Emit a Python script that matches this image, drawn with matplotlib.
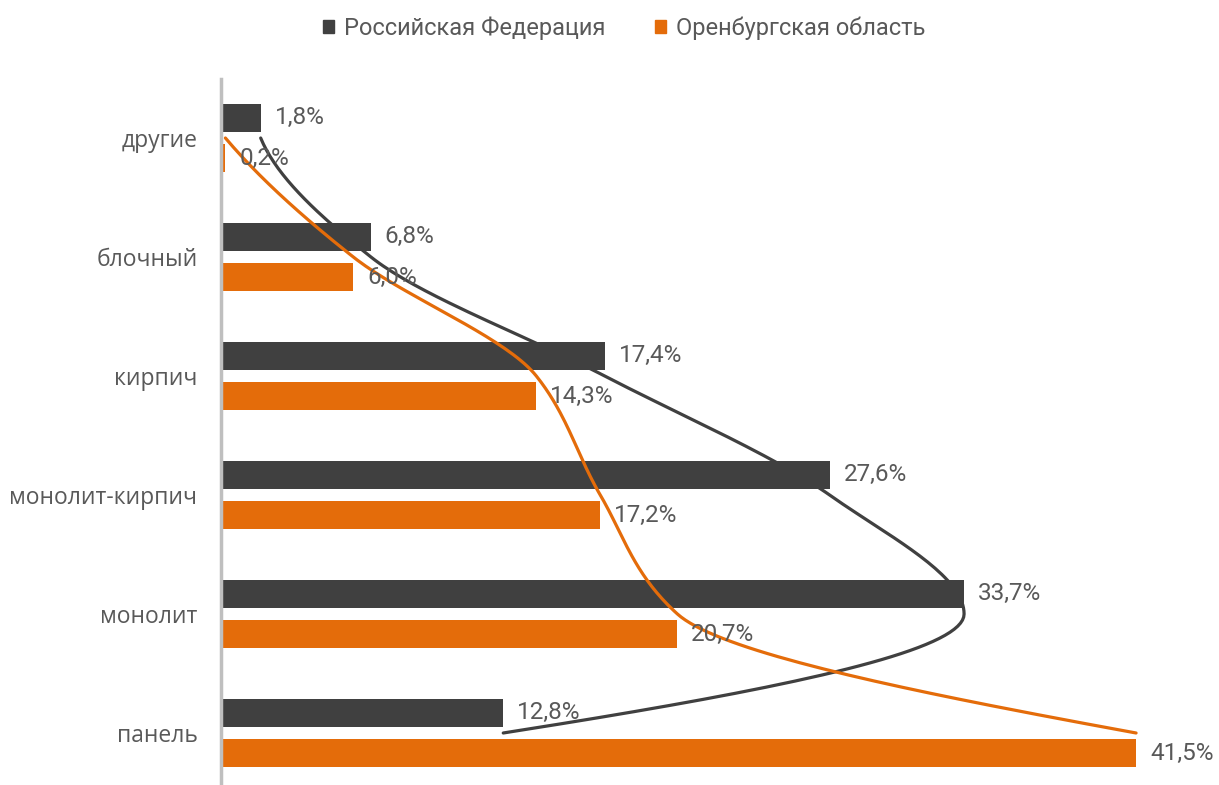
import matplotlib
matplotlib.use("Agg")
import matplotlib.pyplot as plt
from matplotlib.patches import Patch
import numpy as np

# data
categories = ["другие", "блочный", "кирпич", "монолит-кирпич", "монолит", "панель"]
rf_values = [1.8, 6.8, 17.4, 27.6, 33.7, 12.8]
orb_values = [0.2, 6.0, 14.3, 17.2, 20.7, 41.5]
series_names = ["Российская Федерация", "Оренбургская область"]

dark = "#404040"
orange = "#E46C0A"
txt = "#595959"

plt.rcParams['font.family'] = ['Roboto', 'DejaVu Sans']


def smooth(xs, n=40):
    # monotone (PCHIP) curve x(y) through the bar ends, one step per category
    x = np.asarray(xs, dtype=float)
    d = np.diff(x)
    m = np.zeros_like(x)
    for i in range(1, len(x) - 1):
        if d[i - 1] * d[i] > 0:
            m[i] = 2.0 / (1.0 / d[i - 1] + 1.0 / d[i])
    for k, (a, b) in ((0, (d[0], d[1])), (-1, (d[-1], d[-2]))):
        e = (3 * a - b) / 2.0
        if np.sign(e) != np.sign(a):
            e = 0.0
        elif np.sign(a) != np.sign(b) and abs(e) > 3 * abs(a):
            e = 3 * a
        m[k] = e
    t = np.linspace(0, 1, n)
    h00 = 2 * t ** 3 - 3 * t ** 2 + 1
    h10 = t ** 3 - 2 * t ** 2 + t
    h01 = -2 * t ** 3 + 3 * t ** 2
    h11 = t ** 3 - t ** 2
    px, py = [], []
    for i in range(len(x) - 1):
        seg = h00 * x[i] + h10 * m[i] + h01 * x[i + 1] + h11 * m[i + 1]
        px.append(seg if i == 0 else seg[1:])
        py.append((i + t) if i == 0 else (i + t)[1:])
    return np.concatenate(px), np.concatenate(py)


W, H = 1219, 785
fig = plt.figure(figsize=(W / 100, H / 100), dpi=100)

# axes geometry in pixels
x0_px = 221
px_per_unit = 22.05
xmax = 45.0
top_px = 78.5
step = 119.0
n = len(categories)
bottom_px = top_px + n * step
ax = fig.add_axes([x0_px / W, 1 - bottom_px / H, xmax * px_per_unit / W, (bottom_px - top_px) / H])

y = np.arange(n)
off = 0.17
h = 0.235
ax.barh(y - off, rf_values, height=h, color=dark, zorder=2)
ax.barh(y + off, orb_values, height=h, color=orange, zorder=2)

# smoothed lines through the bar ends
sx, sy = smooth(rf_values)
ax.plot(sx, sy, color=dark, lw=2.3, zorder=3, solid_capstyle='round')
sx, sy = smooth(orb_values)
ax.plot(sx, sy, color=orange, lw=2.3, zorder=3, solid_capstyle='round')

for i in range(n):
    ax.annotate(f"{rf_values[i]:.1f}%".replace('.', ','), (rf_values[i], y[i] - off),
                xytext=(10, 0), textcoords='offset points', va='center', ha='left',
                color=txt, fontsize=17.5, zorder=4)
    ax.annotate(f"{orb_values[i]:.1f}%".replace('.', ','), (orb_values[i], y[i] + off),
                xytext=(10, 0), textcoords='offset points', va='center', ha='left',
                color=txt, fontsize=17.5, zorder=4)

ax.set_xlim(0, xmax)
ax.set_ylim(n - 0.5, -0.5)
ax.set_yticks(y)
ax.set_yticklabels(categories, family=['Open Sans', 'DejaVu Sans'])
ax.tick_params(axis='y', length=0, pad=17, labelsize=16.5, labelcolor=txt)
ax.set_xticks([])
for s in ['top', 'right', 'bottom']:
    ax.spines[s].set_visible(False)
ax.spines['left'].set_color('#BFBFBF')
ax.spines['left'].set_linewidth(2.5)

# legend
handles = [Patch(color=dark), Patch(color=orange)]
fig.legend(handles, series_names, loc='center', bbox_to_anchor=(0.512, 1 - 28 / H),
           ncol=2, frameon=False, fontsize=17, labelcolor=txt,
           handlelength=0.47, handleheight=0.47, handletextpad=0.42, columnspacing=2.1)

fig.savefig("out.png", dpi=100)
